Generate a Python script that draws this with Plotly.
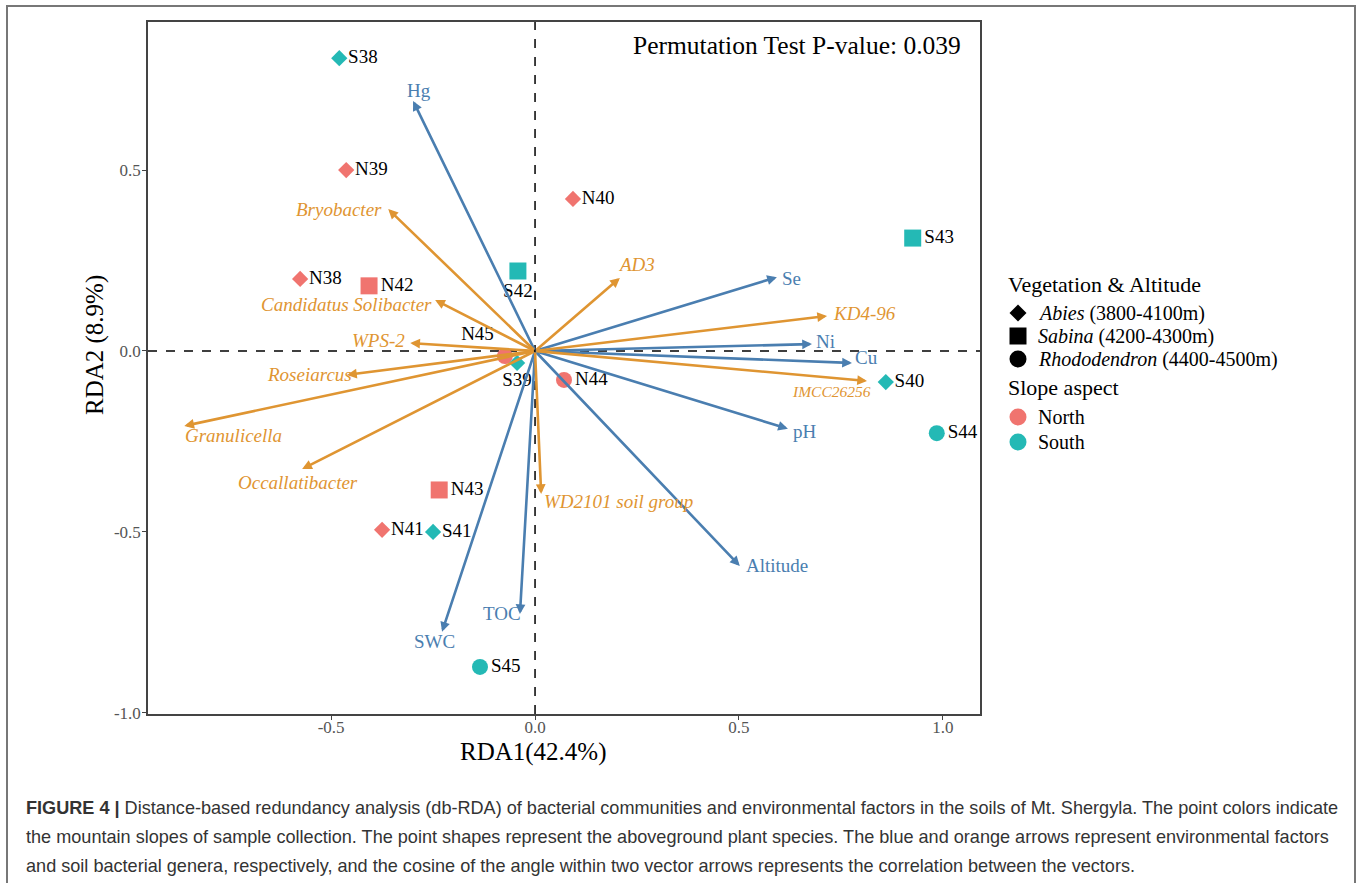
import plotly.graph_objects as go

# ---------------- data ----------------
samples = ["S38", "N39", "N40", "N38", "N42", "S42", "S43", "N45",
           "S39", "N44", "S40", "S44", "N43", "N41", "S41", "S45"]
rda1 = [-0.480, -0.463, 0.093, -0.576, -0.407, -0.042, 0.926, -0.074,
        -0.044, 0.071, 0.860, 0.985, -0.235, -0.375, -0.250, -0.135]
rda2 = [0.809, 0.500, 0.420, 0.199, 0.180, 0.221, 0.312, -0.014,
        -0.033, -0.080, -0.086, -0.227, -0.384, -0.494, -0.500, -0.873]
slope = ["South", "North", "North", "North", "North", "South", "South", "North",
         "South", "North", "South", "South", "North", "North", "South", "South"]
vegetation = ["Abies", "Abies", "Abies", "Abies", "Sabina", "Sabina", "Sabina", "Rhododendron",
              "Abies", "Rhododendron", "Abies", "Rhododendron", "Sabina", "Abies", "Abies", "Rhododendron"]

env_names = ["Hg", "Se", "Ni", "Cu", "pH", "Altitude", "TOC", "SWC"]
env_x = [-0.299, 0.593, 0.679, 0.777, 0.620, 0.502, -0.037, -0.228]
env_y = [0.691, 0.204, 0.019, -0.033, -0.215, -0.594, -0.727, -0.776]

gen_names = ["Bryobacter", "AD3", "KD4-96", "Candidatus Solibacter", "WPS-2", "Roseiarcus",
             "IMCC26256", "Granulicella", "Occallatibacter", "WD2101 soil group"]
gen_x = [-0.360, 0.208, 0.716, -0.245, -0.306, -0.461, 0.814, -0.860, -0.571, 0.015]
gen_y = [0.392, 0.202, 0.097, 0.141, 0.022, -0.066, -0.083, -0.207, -0.326, -0.395]

x_ticks = [-0.5, 0.0, 0.5, 1.0]
x_ticktext = ["-0.5", "0.0", "0.5", "1.0"]
y_ticks = [-1.0, -0.5, 0.0, 0.5]
y_ticktext = ["-1.0", "-0.5", "0.0", "0.5"]

veg_order = ["Abies", "Sabina", "Rhododendron"]
veg_labels = {"Abies": "<i>Abies</i> (3800-4100m)",
              "Sabina": "<i>Sabina</i> (4200-4300m)",
              "Rhododendron": "<i>Rhododendron</i> (4400-4500m)"}
slope_order = ["North", "South"]
legend1_title = "Vegetation & Altitude"
legend2_title = "Slope aspect"
x_title = "RDA1(42.4%)"
y_title = "RDA2 (8.9%)"
ptext = "Permutation Test P-value: 0.039"
caption_lines = [
    "<b>FIGURE 4 |</b> Distance-based redundancy analysis (db-RDA) of bacterial communities and environmental factors in the soils of Mt. Shergyla. The point colors indicate",
    "the mountain slopes of sample collection. The point shapes represent the aboveground plant species. The blue and orange arrows represent environmental factors",
    "and soil bacterial genera, respectively, and the cosine of the angle within two vector arrows represents the correlation between the vectors.",
]

# ---------------- styles ----------------
W, H = 1360, 883
L, R, T, B = 148, 380, 22, 169
PW, PH = W - L - R, H - T - B
SERIF = "Liberation Serif"
SANS = "Liberation Sans"
col_slope = {"North": "#F0746F", "South": "#24B9B5"}
sym_veg = {"Abies": "diamond", "Sabina": "square", "Rhododendron": "circle"}
size_veg = {"Abies": 12.5, "Sabina": 17, "Rhododendron": 16}
ENV_COL = "#4A7EB0"
GEN_COL = "#DF9532"
LAB_SIZE = 19

text_pos = {"S42": "bottom center", "S39": "bottom center", "N45": "top left"}

# label placement (xanchor, xshift px, yshift px)
env_lab = {"Hg": ("center", 6, 10), "Se": ("left", 3, -1), "Ni": ("left", 2, 3),
           "Cu": ("left", 1, 5), "pH": ("left", 3, -3), "Altitude": ("left", 4, 0),
           "TOC": ("right", 3, 1), "SWC": ("center", -8, -10)}
gen_lab = {"Bryobacter": ("right", -4, 0), "AD3": ("center", 17, 13),
           "KD4-96": ("left", 4, 2), "Candidatus Solibacter": ("right", -1, -5),
           "WPS-2": ("right", -3, 3), "Roseiarcus": ("right", 7, 0),
           "IMCC26256": ("right", 6, -10), "Granulicella": ("left", -1, -10),
           "Occallatibacter": ("center", -4, -14), "WD2101 soil group": ("left", 1, -8)}


def px(xp):
    return (xp - L) / PW


def py(yp):
    return (H - B - yp) / PH


fig = go.Figure()

# sample points
for i, s in enumerate(samples):
    fig.add_trace(go.Scatter(
        x=[rda1[i]], y=[rda2[i]], mode="markers+text", text=[s],
        textposition=text_pos.get(s, "middle right"),
        textfont=dict(family=SERIF, size=LAB_SIZE, color="black"),
        marker=dict(symbol=sym_veg[vegetation[i]], size=size_veg[vegetation[i]],
                    color=col_slope[slope[i]], line=dict(width=0)),
        showlegend=False, hoverinfo="skip", cliponaxis=False))

ann = []
shapes = [
    dict(type="line", xref="x", yref="paper", x0=0, x1=0, y0=0, y1=1,
         line=dict(color="black", width=1.5, dash="dash"), layer="below"),
    dict(type="line", xref="paper", yref="y", x0=0, x1=1, y0=0, y1=0,
         line=dict(color="black", width=1.5, dash="dash"), layer="below"),
    dict(type="rect", xref="paper", yref="paper", x0=px(7), x1=px(1355), y0=py(895), y1=py(6),
         line=dict(color="#777777", width=2), layer="below"),
]

# arrows
for names, xs, ys, col, labs, italic in [(env_names, env_x, env_y, ENV_COL, env_lab, False),
                                         (gen_names, gen_x, gen_y, GEN_COL, gen_lab, True)]:
    for n, x, y in zip(names, xs, ys):
        ann.append(dict(x=x, y=y, ax=0, ay=0, xref="x", yref="y", axref="x", ayref="y",
                        text="", showarrow=True, arrowhead=2, arrowsize=0.75, arrowwidth=2.6,
                        arrowcolor=col, standoff=0, startstandoff=0))
        xa, xs_, ys_ = labs[n]
        t = f"<i>{n}</i>" if italic else n
        fsize = 15.5 if n == "IMCC26256" else LAB_SIZE
        ann.append(dict(x=x, y=y, xref="x", yref="y", text=t, showarrow=False,
                        xanchor=xa, yanchor="middle", xshift=xs_, yshift=ys_,
                        font=dict(family=SERIF, size=fsize, color=col)))

# manual legends
LEG_X, SYM_X, TXT_X = 1006, 1018, 1036
ann.append(dict(x=px(LEG_X), y=py(284), xref="paper", yref="paper", text=legend1_title,
                showarrow=False, xanchor="left", yanchor="middle",
                font=dict(family=SERIF, size=22, color="black")))
for k, v in enumerate(veg_order):
    yc = 313 + 23 * k
    half = 8.5
    if v == "Abies":
        shapes.append(dict(type="path", xref="paper", yref="paper",
                           path=(f"M {px(SYM_X)} {py(yc - half)} L {px(SYM_X + half)} {py(yc)} "
                                 f"L {px(SYM_X)} {py(yc + half)} L {px(SYM_X - half)} {py(yc)} Z"),
                           fillcolor="black", line=dict(width=0)))
    elif v == "Sabina":
        shapes.append(dict(type="rect", xref="paper", yref="paper",
                           x0=px(SYM_X - half), x1=px(SYM_X + half), y0=py(yc + half), y1=py(yc - half),
                           fillcolor="black", line=dict(width=0)))
    else:
        shapes.append(dict(type="circle", xref="paper", yref="paper",
                           x0=px(SYM_X - half), x1=px(SYM_X + half), y0=py(yc + half), y1=py(yc - half),
                           fillcolor="black", line=dict(width=0)))
    ann.append(dict(x=px(TXT_X), y=py(yc), xref="paper", yref="paper", text=veg_labels[v],
                    showarrow=False, xanchor="left", yanchor="middle",
                    font=dict(family=SERIF, size=20, color="black")))
ann.append(dict(x=px(LEG_X), y=py(387), xref="paper", yref="paper", text=legend2_title,
                showarrow=False, xanchor="left", yanchor="middle",
                font=dict(family=SERIF, size=22, color="black")))
for k, s in enumerate(slope_order):
    yc = 417 + 25 * k
    half = 8.5
    shapes.append(dict(type="circle", xref="paper", yref="paper",
                       x0=px(SYM_X - half), x1=px(SYM_X + half), y0=py(yc + half), y1=py(yc - half),
                       fillcolor=col_slope[s], line=dict(width=0)))
    ann.append(dict(x=px(TXT_X), y=py(yc), xref="paper", yref="paper", text=s,
                    showarrow=False, xanchor="left", yanchor="middle",
                    font=dict(family=SERIF, size=20, color="black")))

# texts
ann.append(dict(x=px(963), y=py(45), xref="paper", yref="paper", text=ptext, showarrow=False,
                xanchor="right", yanchor="middle", font=dict(family=SERIF, size=25.5, color="black")))
ann.append(dict(x=px(533), y=py(752), xref="paper", yref="paper", text=x_title, showarrow=False,
                xanchor="center", yanchor="middle", font=dict(family=SERIF, size=25, color="black")))
ann.append(dict(x=px(95), y=py(345), xref="paper", yref="paper", text=y_title, showarrow=False,
                textangle=-90, xanchor="center", yanchor="middle",
                font=dict(family=SERIF, size=25, color="black")))
for k, line in enumerate(caption_lines):
    ann.append(dict(x=px(24), y=py(808 + 29 * k), xref="paper", yref="paper", text=line,
                    showarrow=False, xanchor="left", yanchor="middle",
                    font=dict(family=SANS, size=18.1, color="#333333")))

axis_common = dict(showgrid=False, zeroline=False, showline=True, mirror=True,
                   linecolor="#444444", linewidth=1.5, ticks="outside", ticklen=4,
                   tickcolor="#444444",
                   tickfont=dict(family=SERIF, size=17, color="#555555"))

fig.update_layout(
    width=W, height=H, margin=dict(l=L, r=R, t=T, b=B, autoexpand=False),
    paper_bgcolor="white", plot_bgcolor="white",
    xaxis=dict(range=[-0.949, 1.091], tickvals=x_ticks, ticktext=x_ticktext,
               ticklabelstandoff=-7, **axis_common),
    yaxis=dict(range=[-1.003, 0.909], tickvals=y_ticks, ticktext=y_ticktext,
               ticklabelstandoff=-2, **axis_common),
    annotations=ann, shapes=shapes,
    showlegend=False,
)

fig.write_html("out.html", config={"displayModeBar": False},
               post_script="document.body.style.margin='0px';")
